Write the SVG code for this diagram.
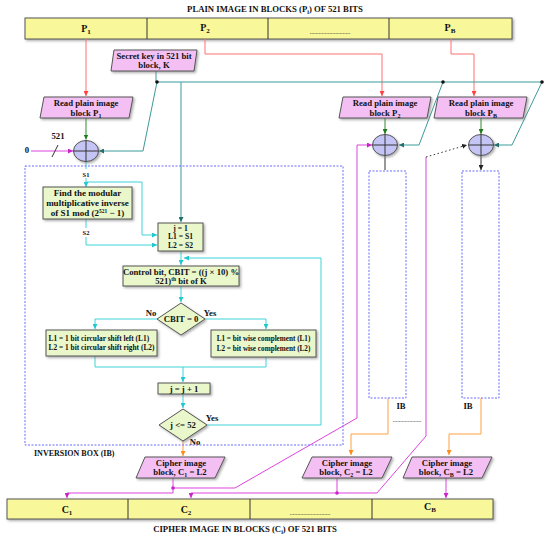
<svg xmlns="http://www.w3.org/2000/svg" width="550" height="539" viewBox="0 0 550 539">
<style>
.t{font-family:"Liberation Serif",serif;font-weight:bold;font-size:8.7px;fill:#111;text-anchor:middle}
.tl{font-family:"Liberation Serif",serif;font-weight:bold;font-size:7.4px;fill:#111}
.big{font-size:10px}
.bar{fill:#f8f89a;stroke:#555;stroke-width:1}
.pink{fill:#f4c0f4;stroke:#555;stroke-width:1}
.grn{fill:#e9f7cb;stroke:#555;stroke-width:1}
.xor{fill:#c5c5f5;stroke:#555;stroke-width:1}
.ib{fill:none;stroke:#6a6aff;stroke-width:1;stroke-dasharray:2,1.5}
.ln{fill:none;stroke-width:1}
.red{stroke:#ff7070}.gr{stroke:#2e8b2e}.tl2{stroke:#3d9a9a}.cy{stroke:#3dd3d8}.mg{stroke:#dd44dd}.or{stroke:#ffa040}.bk{stroke:#333}
</style>
<defs>
<filter id="sh" x="-10%" y="-10%" width="130%" height="140%"><feDropShadow dx="1.5" dy="1.5" stdDeviation="1" flood-color="#777" flood-opacity="0.6"/></filter>
<marker id="aR" viewBox="0 0 6 6" refX="6" refY="3" markerWidth="5" markerHeight="5" orient="auto"><path d="M0,0L6,3L0,6z" fill="#ff4040"/></marker>
<marker id="aG" viewBox="0 0 6 6" refX="6" refY="3" markerWidth="5" markerHeight="5" orient="auto"><path d="M0,0L6,3L0,6z" fill="#1e7b1e"/></marker>
<marker id="aT" viewBox="0 0 6 6" refX="6" refY="3" markerWidth="5" markerHeight="5" orient="auto"><path d="M0,0L6,3L0,6z" fill="#1f6f6f"/></marker>
<marker id="aC" viewBox="0 0 6 6" refX="6" refY="3" markerWidth="5" markerHeight="5" orient="auto"><path d="M0,0L6,3L0,6z" fill="#20c8cf"/></marker>
<marker id="aM" viewBox="0 0 6 6" refX="6" refY="3" markerWidth="5" markerHeight="5" orient="auto"><path d="M0,0L6,3L0,6z" fill="#cc22cc"/></marker>
<marker id="aO" viewBox="0 0 6 6" refX="6" refY="3" markerWidth="5" markerHeight="5" orient="auto"><path d="M0,0L6,3L0,6z" fill="#ff8c1a"/></marker>
<marker id="aK" viewBox="0 0 6 6" refX="6" refY="3" markerWidth="5" markerHeight="5" orient="auto"><path d="M0,0L6,3L0,6z" fill="#222"/></marker>
</defs>
<rect width="550" height="539" fill="#fff"/>

<text class="t" x="275" y="12">PLAIN IMAGE IN BLOCKS (P<tspan dy="2" font-size="6">i</tspan><tspan dy="-2">) OF 521 BITS</tspan></text>
<text class="t" x="245" y="532">CIPHER IMAGE IN BLOCKS (C<tspan dy="2" font-size="6">i</tspan><tspan dy="-2">) OF 521 BITS</tspan></text>

<g id="plainBar">
<rect class="bar" x="25" y="18" width="487" height="21" filter="url(#sh)"/>
<path class="ln bk" d="M147,18V39M268,18V39M389,18V39"/>
<text class="t big" x="86" y="32">P<tspan dy="2" font-size="7">1</tspan></text>
<text class="t big" x="205" y="31">P<tspan dy="2" font-size="7">2</tspan></text>
<text class="t" x="330" y="34" style="font-weight:normal;font-size:6px">...........................</text>
<text class="t big" x="450" y="31">P<tspan dy="2" font-size="7">B</tspan></text>
</g>

<g id="cipherBar">
<rect class="bar" x="7" y="499" width="486" height="20" filter="url(#sh)"/>
<path class="ln bk" d="M128,499V519M250,499V519M372,499V519"/>
<text class="t big" x="67" y="513">C<tspan dy="2" font-size="7">1</tspan></text>
<text class="t big" x="186" y="513">C<tspan dy="2" font-size="7">2</tspan></text>
<text class="t" x="310" y="515" style="font-weight:normal;font-size:6px">...........................</text>
<text class="t big" x="430" y="510">C<tspan dy="2" font-size="7">B</tspan></text>
</g>

<g id="connectors">
<path class="ln red" d="M86,39V96" marker-end="url(#aR)"/>
<path class="ln red" d="M205,39V54H382V96" marker-end="url(#aR)"/>
<path class="ln red" d="M451,39V54H474V96" marker-end="url(#aR)"/>
<path class="ln gr" d="M86,118V139.5" marker-end="url(#aG)"/>
<path class="ln gr" d="M385,118V134" marker-end="url(#aG)"/>
<path class="ln gr" d="M481,118V134" marker-end="url(#aG)"/>
<path class="ln tl2" d="M156,71V82H542"/>
<path class="ln tl2" d="M157,82L143,151H99" marker-end="url(#aT)"/>
<path class="ln tl2" d="M181,82V222" marker-end="url(#aT)"/>
<path class="ln tl2" d="M443,82L419,145H399" marker-end="url(#aT)"/>
<path class="ln tl2" d="M542,82L512,145H494" marker-end="url(#aT)"/>
<circle cx="157" cy="82" r="1.8" fill="#111"/>
<circle cx="443" cy="82" r="1.8" fill="#111"/>
<circle cx="542" cy="82" r="1.8" fill="#111"/>
<path class="ln mg" d="M31,151H73" marker-end="url(#aM)"/>
<path class="ln bk" d="M52,157L58,145"/>
<path class="ln bk" d="M385,156V170M481,156V170" marker-end="url(#aK)"/>
<path class="ln cy" d="M86,161.5V187" marker-end="url(#aC)"/>
<path class="ln cy" d="M86,182H142V235H157" marker-end="url(#aC)"/>
<path class="ln cy" d="M86,219V245H157" marker-end="url(#aC)"/>
<path class="ln cy" d="M181,251V265" marker-end="url(#aC)"/>
<path class="ln cy" d="M207,425H321V258H184" marker-end="url(#aC)"/>
<path class="ln cy" d="M181,286V302" marker-end="url(#aC)"/>
<path class="ln cy" d="M157,319H95V329" marker-end="url(#aC)"/>
<path class="ln cy" d="M205,319H266V329" marker-end="url(#aC)"/>
<path class="ln cy" d="M95,356V367H182M266,357V367H182"/>
<path class="ln cy" d="M183,367V382" marker-end="url(#aC)"/>
<path class="ln cy" d="M183,394V408" marker-end="url(#aC)"/>
<path class="ln or" d="M183,441V456" marker-end="url(#aO)"/>
<path class="ln or" d="M388,398V434H351V455" marker-end="url(#aO)"/>
<path class="ln or" d="M481,398V434H449V455" marker-end="url(#aO)"/>
<path class="ln mg" d="M173,478V493H67V498" marker-end="url(#aM)"/>
<path class="ln mg" d="M173,488H235L357,418V145H372" marker-end="url(#aM)"/>
<path class="ln mg" d="M337,478V493H191V498" marker-end="url(#aM)"/>
<path class="ln mg" d="M337,493H377L426,436V157"/>
<path class="ln bk" d="M426,157L467,145" stroke-dasharray="1.5,2.5" marker-end="url(#aK)"/>
<path class="ln mg" d="M446,478V498" marker-end="url(#aM)"/>
<circle cx="173" cy="488" r="1.8" fill="#cc22cc"/>
<circle cx="337" cy="493" r="1.8" fill="#cc22cc"/>
</g>

<g id="labels">
<text class="t" x="27" y="153">0</text>
<text class="t" x="58" y="139">521</text>
<rect x="80" y="169" width="12" height="9" fill="#fff"/>
<text class="t" x="86" y="177" style="font-size:6.5px">S1</text>
<rect x="80" y="228" width="12" height="9" fill="#fff"/>
<text class="t" x="86" y="235" style="font-size:6.5px">S2</text>
<text class="t" x="151" y="316">No</text>
<text class="t" x="210" y="316">Yes</text>
<text class="t" x="212" y="421">Yes</text>
<text class="t" x="195" y="445">No</text>
<text class="tl" x="34" y="456" style="font-size:8px">INVERSION BOX (IB)</text>
<text class="t" x="401" y="409">IB</text>
<text class="t" x="468" y="409">IB</text>
<text class="t" x="407" y="422" style="font-weight:normal;font-size:6px">...................</text>
</g>

<g id="ib1"><rect class="ib" x="25" y="166" width="318" height="279"/></g>
<g id="ib2"><rect class="ib" x="369" y="171" width="37" height="227"/></g>
<g id="ibB"><rect class="ib" x="462" y="171" width="37" height="227"/></g>

<g id="key">
<polygon class="pink" points="114,50 197,50 194,71 111,71" filter="url(#sh)"/>
<text class="t" x="154" y="59">Secret key in 521 bit</text>
<text class="t" x="154" y="68">block, K</text>
</g>
<g id="read1">
<polygon class="pink" points="44,97 133,97 129,118 40,118" filter="url(#sh)"/>
<text class="t" x="86" y="106">Read plain image</text>
<text class="t" x="86" y="115.5">block P<tspan dy="2" font-size="6">1</tspan></text>
</g>
<g id="read2">
<polygon class="pink" points="343,97 431,97 427,118 339,118" filter="url(#sh)"/>
<text class="t" x="385" y="106">Read plain image</text>
<text class="t" x="385" y="115.5">block P<tspan dy="2" font-size="6">2</tspan></text>
</g>
<g id="readB">
<polygon class="pink" points="438,97 527,97 523,118 434,118" filter="url(#sh)"/>
<text class="t" x="481" y="106">Read plain image</text>
<text class="t" x="481" y="115.5">block P<tspan dy="2" font-size="6">B</tspan></text>
</g>

<g id="xor1"><ellipse class="xor" cx="86" cy="151" rx="12.5" ry="10.5" filter="url(#sh)"/><path class="ln bk" d="M73.5,151H98.5M86,140.5V161.5"/></g>
<g id="xor2"><ellipse class="xor" cx="385" cy="145" rx="12.5" ry="10.5" filter="url(#sh)"/><path class="ln bk" d="M372.5,145H397.5M385,134.5V155.5"/></g>
<g id="xorB"><ellipse class="xor" cx="481" cy="145" rx="12.5" ry="10.5" filter="url(#sh)"/><path class="ln bk" d="M468.5,145H493.5M481,134.5V155.5"/></g>

<g id="modinv">
<rect class="grn" x="43" y="187" width="89" height="32" filter="url(#sh)"/>
<text class="t" x="87.5" y="196" style="font-size:9px">Find the modular</text>
<text class="t" x="87.5" y="205.5" style="font-size:9px">multiplicative inverse</text>
<text class="t" x="87.5" y="215.5" style="font-size:9px">of S1 mod (2<tspan dy="-3" font-size="5.5">521</tspan><tspan dy="3"> − 1)</tspan></text>
</g>
<g id="init">
<rect class="grn" x="158" y="223" width="45" height="28" filter="url(#sh)"/>
<text class="t" x="180.5" y="230.5" style="font-size:7.6px">j = 1</text>
<text class="t" x="180.5" y="239.2" style="font-size:7.6px">L1 = S1</text>
<text class="t" x="180.5" y="248" style="font-size:7.6px">L2 = S2</text>
</g>
<g id="control">
<rect class="grn" x="123" y="266" width="116" height="20" filter="url(#sh)"/>
<text class="t" x="181" y="274.5">Control bit, CBIT = ((j × 10) %</text>
<text class="t" x="181" y="284">521)<tspan dy="-3" font-size="5.5">th</tspan><tspan dy="3"> bit of K</tspan></text>
</g>
<g id="cbit">
<polygon class="grn" points="181,303 205,319 181,335 157,319" filter="url(#sh)"/>
<text class="t" x="181" y="322">CBIT = 0</text>
</g>
<g id="shift">
<rect class="grn" x="46" y="330" width="111" height="26" filter="url(#sh)"/>
<text class="tl" x="48.5" y="340.5">L1 = 1 bit circular shift left (L1)</text>
<text class="tl" x="48.5" y="350">L2 = 1 bit circular shift right (L2)</text>
</g>
<g id="compl">
<rect class="grn" x="211" y="330" width="105" height="27" filter="url(#sh)"/>
<text class="t" x="263.5" y="341" style="font-size:7.2px">L1 = bit wise complement (L1)</text>
<text class="t" x="263.5" y="350.5" style="font-size:7.2px">L2 = bit wise complement (L2)</text>
</g>
<g id="incr">
<rect class="grn" x="158" y="383" width="52" height="11" filter="url(#sh)"/>
<text class="t" x="184" y="391.5">j = j + 1</text>
</g>
<g id="loopTest">
<polygon class="grn" points="183,409 207,425 183,441 159,425" filter="url(#sh)"/>
<text class="t" x="183" y="428">j &lt;= 52</text>
</g>

<g id="cipher1">
<polygon class="pink" points="145,457 225,457 215,478 136,478" filter="url(#sh)"/>
<text class="t" x="181" y="465.5">Cipher image</text>
<text class="t" x="180" y="475">block,  C<tspan dy="2" font-size="6">1</tspan><tspan dy="-2"> = L2</tspan></text>
</g>
<g id="cipher2">
<polygon class="pink" points="312,457 392,457 382,478 302,478" filter="url(#sh)"/>
<text class="t" x="347" y="465.5">Cipher image</text>
<text class="t" x="346" y="475">block,  C<tspan dy="2" font-size="6">2</tspan><tspan dy="-2"> = L2</tspan></text>
</g>
<g id="cipherB">
<polygon class="pink" points="412,457 492,457 482,478 403,478" filter="url(#sh)"/>
<text class="t" x="447" y="465.5">Cipher image</text>
<text class="t" x="446" y="475">block,  C<tspan dy="2" font-size="6">B</tspan><tspan dy="-2"> = L2</tspan></text>
</g>
</svg>
